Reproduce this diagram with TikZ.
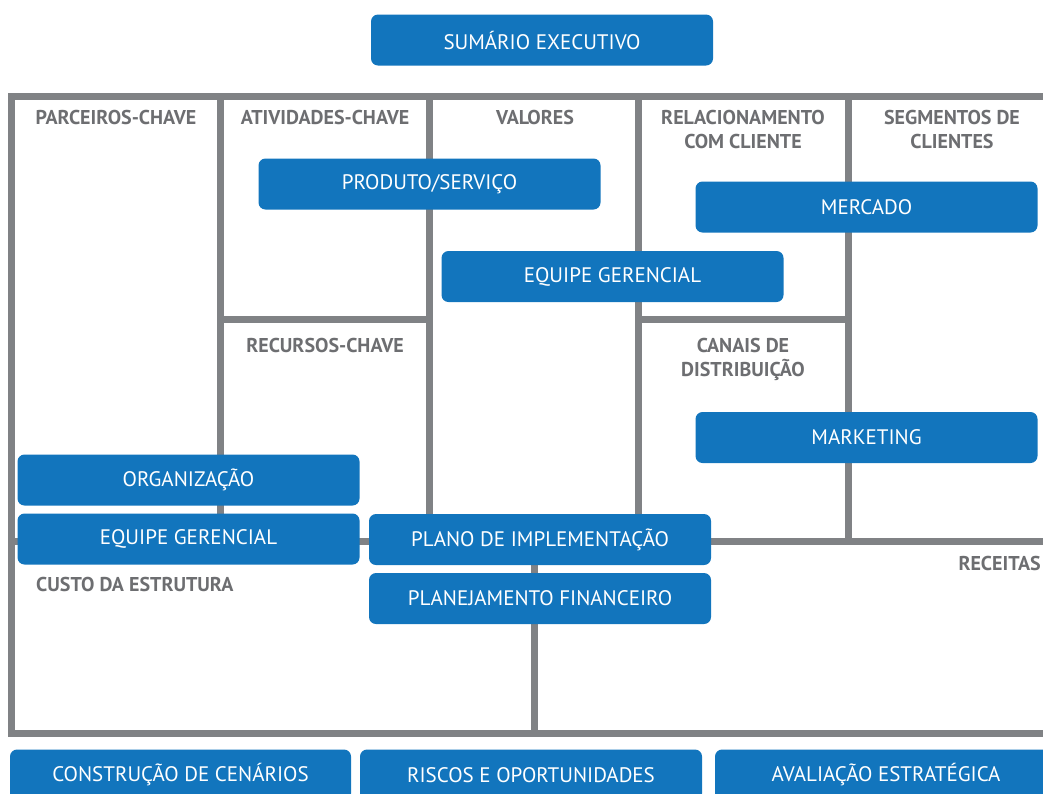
\documentclass[tikz,border=0pt]{standalone}
\usepackage{fontspec}
\setmainfont{PT Sans}
\definecolor{boxblue}{HTML}{1275BD}
\definecolor{gridgrey}{HTML}{808285}
\definecolor{labelgrey}{HTML}{6D6E71}
\tikzset{
  block/.style={fill=boxblue,rounded corners=7pt,minimum width=342pt,minimum height=51pt,
    inner sep=0pt,text=white,font=\fontsize{21}{24}\selectfont},
  cell/.style={text=labelgrey,font=\bfseries\fontsize{20}{24}\selectfont,align=center,
    anchor=base,inner sep=0pt},
  frameline/.style={draw=gridgrey,line width=7pt}
}
\begin{document}
\begin{tikzpicture}[x=1pt,y=-1pt,line join=miter]
  \useasboundingbox (0,0) rectangle (1043,793);
  % canvas grid
  \coordinate (TL) at (11,96);
  \coordinate (BL) at (11,733);
  \draw[frameline] (1043,96) -- (TL) -- (BL) -- (1043,733);
  \foreach \x in {220.5,429,638.5,848.5}
    \draw[frameline] (\x,96) -- (\x,541);
  \draw[frameline] (220.5,319) -- (429,319);
  \draw[frameline] (638.5,319) -- (848.5,319);
  \draw[frameline] (11,541) -- (1043,541);
  \draw[frameline] (534,541) -- (534,733);
  % block titles (base = last line)
  \node[cell] (parceiros) at (116,124) {PARCEIROS-CHAVE};
  \node[cell] (atividades) at (325,124) {ATIVIDADES-CHAVE};
  \node[cell] (valores) at (535,124) {VALORES};
  \node[cell] (relacionamento) at (743,148) {RELACIONAMENTO\\COM CLIENTE};
  \node[cell] (segmentos) at (952,148) {SEGMENTOS DE\\CLIENTES};
  \node[cell] (recursos) at (325,352) {RECURSOS-CHAVE};
  \node[cell] (canais) at (743,376) {CANAIS DE\\DISTRIBUIÇÃO};
  \node[cell,anchor=base west] (custo) at (36,591) {CUSTO DA ESTRUTURA};
  \node[cell,anchor=base east] (receitas) at (1041,570) {RECEITAS};
  % plan sections
  \node[block] (sumario) at (542,40) {SUMÁRIO EXECUTIVO};
  \node[block] (produto) at (429.5,184) {PRODUTO/SERVIÇO};
  \node[block] (equipeA) at (612.5,276.5) {EQUIPE GERENCIAL};
  \node[block] (mercado) at (866.5,207) {MERCADO};
  \node[block] (marketing) at (866.5,437.5) {MARKETING};
  \node[block] (organizacao) at (188.5,480) {ORGANIZAÇÃO};
  \node[block] (equipeB) at (188.5,539) {EQUIPE GERENCIAL};
  \node[block] (plano) at (540,539.5) {PLANO DE IMPLEMENTAÇÃO};
  \node[block] (financeiro) at (540,598.5) {PLANEJAMENTO FINANCEIRO};
  \node[block,minimum width=341pt] (cenarios) at (180.5,775) {CONSTRUÇÃO DE CENÁRIOS};
  \node[block] (riscos) at (531,775) {RISCOS E OPORTUNIDADES};
  \node[block] (avaliacao) at (886,775) {AVALIAÇÃO ESTRATÉGICA};
\end{tikzpicture}
\end{document}
